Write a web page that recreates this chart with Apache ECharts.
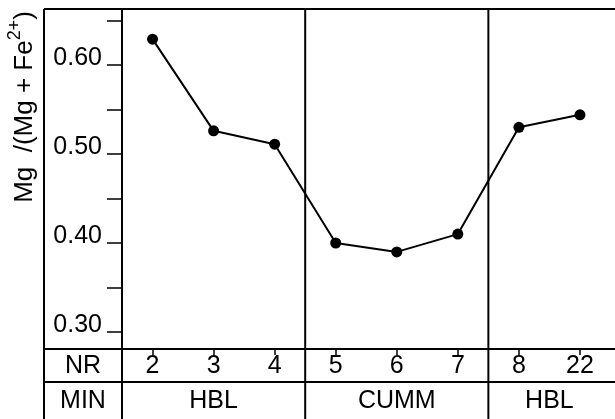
<!DOCTYPE html>
<html>
<head>
<meta charset="utf-8">
<script src="https://cdn.jsdelivr.net/npm/echarts@6/dist/echarts.min.js"></script>
<style>
html,body{margin:0;padding:0;background:#fff;}
#chart{width:615px;height:419px;}
</style>
</head>
<body>
<div id="chart"></div>
<script>
// ---- data ----
var categories = ["2", "3", "4", "5", "6", "7", "8", "22"];
var mgRatio = [0.629, 0.526, 0.511, 0.400, 0.390, 0.410, 0.530, 0.544];
var yTickValues = [0.30, 0.35, 0.40, 0.45, 0.50, 0.55, 0.60, 0.65];
var yLabelValues = [0.30, 0.40, 0.50, 0.60];
var groupNames = ["HBL", "CUMM", "HBL"];
var groupSizes = [3, 3, 2];
var rowLabels = ["NR", "MIN"];

var FONT = "Liberation Sans";
var FS = 25;
var chart = echarts.init(document.getElementById('chart'), null, {renderer: 'canvas'});

var option = {
  animation: false,
  backgroundColor: '#fff',
  grid: {left: 122, right: 4.5, top: 9, bottom: 70, containLabel: false},
  xAxis: {
    type: 'category',
    data: categories,
    boundaryGap: true,
    axisLine: {show: true, lineStyle: {color: '#000', width: 2}},
    axisTick: {show: true, alignWithLabel: true, length: 6, lineStyle: {color: '#000', width: 1.5}},
    axisLabel: {color: '#000', fontFamily: FONT, fontSize: FS, margin: 5},
    splitLine: {show: false}
  },
  yAxis: {
    type: 'value',
    min: 0.2809,
    max: 0.6629,
    axisLine: {show: true, lineStyle: {color: '#000', width: 2}},
    axisTick: {show: true, length: 15, customValues: yTickValues, lineStyle: {color: '#000', width: 1.5}},
    axisLabel: {
      customValues: yLabelValues,
      color: '#000', fontFamily: FONT, fontSize: FS, margin: 20,
      verticalAlign: 'bottom', lineHeight: 14,
      formatter: function (v) { return v.toFixed(2); }
    },
    splitLine: {show: false}
  },
  series: [{
    type: 'line',
    data: mgRatio,
    symbol: 'circle',
    symbolSize: 11,
    itemStyle: {color: '#000'},
    lineStyle: {color: '#000', width: 2}
  }]
};
chart.setOption(option);

function drawTable() {
  var x0 = 44, xR = 615, yTop = 9, yAxisRow = 349, yMid = 382, yBot = 419;
  var centers = categories.map(function (c, i) { return chart.convertToPixel({xAxisIndex: 0}, i); });
  var step = centers[1] - centers[0];
  var leftEdge = centers[0] - step / 2;
  var els = [];
  function line(x1, y1, x2, y2, w) {
    els.push({type: 'line', shape: {x1: x1, y1: y1, x2: x2, y2: y2}, style: {stroke: '#000', lineWidth: w || 2}, silent: true});
  }
  line(x0, yTop, x0, yBot);
  line(x0, yTop, xR, yTop);
  line(leftEdge, yTop, leftEdge, yBot);
  line(x0, yAxisRow, xR, yAxisRow);
  line(x0, yMid, xR, yMid);
  var font = FS + 'px "' + FONT + '"';
  var idx = 0;
  groupNames.forEach(function (g, gi) {
    var a = leftEdge + idx * step;
    var b = leftEdge + (idx + groupSizes[gi]) * step;
    if (idx > 0) line(a, yTop, a, yBot);
    els.push({type: 'text', x: (a + b) / 2, y: (yMid + yBot) / 2 + 1, silent: true,
      style: {text: g, fill: '#000', font: font, align: 'center', verticalAlign: 'middle'}});
    idx += groupSizes[gi];
  });
  els.push({type: 'text', x: (x0 + leftEdge) / 2, y: (yAxisRow + yMid) / 2 + 1, silent: true,
    style: {text: rowLabels[0], fill: '#000', font: font, align: 'center', verticalAlign: 'middle'}});
  els.push({type: 'text', x: (x0 + leftEdge) / 2, y: (yMid + yBot) / 2 + 1, silent: true,
    style: {text: rowLabels[1], fill: '#000', font: font, align: 'center', verticalAlign: 'middle'}});
  // y axis title
  els.push({type: 'text', x: 22, y: 107, rotation: Math.PI / 2, silent: true,
    style: {
      text: '{m|Mg  /(Mg + Fe}{s|2+}{m|)}',
      align: 'center', verticalAlign: 'middle',
      rich: {
        m: {fontFamily: FONT, fontSize: 26, fill: '#000', color: '#000', lineHeight: 32, verticalAlign: 'bottom'},
        s: {fontFamily: FONT, fontSize: 18, fill: '#000', color: '#000', lineHeight: 32, verticalAlign: 'top'}
      }
    }});
  chart.setOption({graphic: {elements: els}});
}
drawTable();
</script>
</body>
</html>
